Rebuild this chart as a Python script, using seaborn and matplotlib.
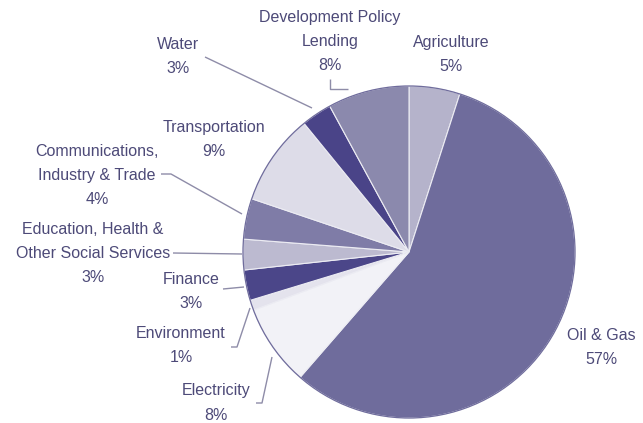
import numpy as np
import pandas as pd
import seaborn as sns
import matplotlib
matplotlib.use("Agg")
import matplotlib.pyplot as plt

# sector shares, clockwise from 12 o'clock
sectors = ["Agriculture", "Oil & Gas", "Electricity", "Environment", "Finance",
           "Education, Health &\nOther Social Services",
           "Communications,\nIndustry & Trade", "Transportation", "Water",
           "Development Policy\nLending"]
shares = [5, 57, 8, 1, 3, 3, 4, 9, 3, 8]
colors = ["#b5b3cb", "#6f6c9c", "#f2f2f7", "#e4e3ed", "#4b4689",
          "#bcbad0", "#7f7ca7", "#dddce8", "#4a4488", "#8b89ad"]

sns.set_theme(style="white")
plt.rcParams["font.family"] = ["Liberation Sans", "DejaVu Sans"]

W, H = 643, 423
fig = plt.figure(figsize=(W / 100, H / 100), dpi=100)
ax = fig.add_axes([0, 0, 1, 1])

cx, cy, r = 409, H - 252, 166
wedges, _ = ax.pie(shares, colors=colors, startangle=90, counterclock=False,
                   center=(cx, cy), radius=r, frame=True,
                   wedgeprops=dict(edgecolor="#ececf3", linewidth=0.8))
ax.add_patch(plt.Circle((cx, cy), r, fill=False, edgecolor="#6f6c9c", lw=0.9))
ax.set_xlim(0, W)
ax.set_ylim(0, H)
ax.set_aspect("equal")
ax.axis("off")

# label centres (pixel coords, y down)
label_pos = [(451, 54), (601, 347), (216, 403), (181, 346), (191, 291),
             (93, 253), (97, 175), (214, 139), (178, 56), (330, 41)]
# leader lines (pixel coords, y down)
leaders = {
    8: [(205, 57), (312, 108)],
    9: [(330, 79), (330, 89), (348, 89)],
    6: [(161, 174), (171, 174), (242, 214)],
    5: [(173, 253), (242, 254)],
    4: [(223, 289), (244, 287)],
    3: [(231, 347), (237, 347), (250, 308)],
    2: [(256, 403), (262, 403), (272, 357)],
}

txt_col = "#4d4a78"
for i, (name, val) in enumerate(zip(sectors, shares)):
    x, y = label_pos[i]
    ax.text(x, H - y, f"{name}\n{val}%", ha="center", va="center",
            fontsize=11.5, color=txt_col, linespacing=1.75)

for i, pts in leaders.items():
    xs = [p[0] for p in pts]
    ys = [H - p[1] for p in pts]
    ax.plot(xs, ys, color="#8e8ca8", lw=1.0, solid_capstyle="butt")

fig.savefig("out.png", dpi=100)
